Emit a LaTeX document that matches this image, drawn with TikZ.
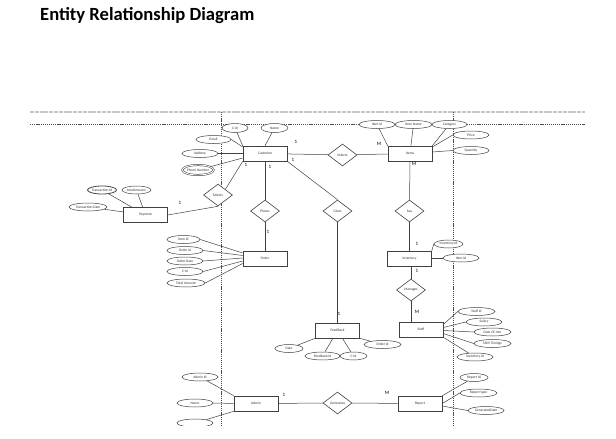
\documentclass[tikz,border=0pt]{standalone}
\usepackage{fontspec}
\setmainfont{Carlito}
\usetikzlibrary{shapes.geometric}
\begin{document}
\begin{tikzpicture}[x=1pt,y=-1pt,
  every node/.style={font=\fontsize{3.6}{4}\selectfont, text=black!80},
  ent/.style={draw=black!75, fill=white, line width=0.6pt, rectangle, minimum width=44pt, minimum height=15pt, inner sep=0pt},
  attr/.style={draw=black!75, fill=white, line width=0.5pt, ellipse, minimum width=36pt, minimum height=8pt, inner sep=0pt},
  rel/.style={draw=black!75, fill=white, line width=0.6pt, diamond, aspect=1.32, minimum height=22pt, minimum width=29pt, inner sep=0pt},
  card/.style={font=\fontsize{5}{5}\selectfont, text=black, inner sep=0pt},
  conn/.style={draw=black!75, line width=0.5pt},
  guide/.style={draw=black!70, line width=0.5pt, dash pattern=on 1.2pt off 0.9pt}]
\useasboundingbox (0,0) rectangle (616,439);
\node[anchor=west, font=\fontsize{18.6}{19}\selectfont\bfseries, text=black, inner sep=0pt] (title) at (40,16) {Entity Relationship Diagram};

\begin{scope}
\clip (0,100) rectangle (616,425);
% guide lines
\coordinate (g1a) at (30,112); \coordinate (g1b) at (585,112);
\coordinate (g2a) at (30,124); \coordinate (g2b) at (585,124);
\coordinate (v1a) at (221,112); \coordinate (v1b) at (221,425);
\coordinate (v2a) at (453,112); \coordinate (v2b) at (453,425);
\draw[gray!45, line width=1.4pt, dash pattern=on 4pt off 0.8pt] (g1a) -- (g1b);
\draw[guide] (g2a) -- (g2b);
\draw[guide] (v1a) -- (v1b);
\draw[guide] (v2a) -- (v2b);

% connectors first (drawn below shapes) - coordinates of nodes defined later, so use a two-pass approach
% entities
\node[ent] (cust) at (265,153.5) {Customer};
\node[ent] (items) at (410,153.5) {Items};
\node[ent] (pay) at (145.5,215) {Payment};
\node[ent] (order) at (265,258.5) {Order};
\node[ent] (inv) at (409.5,258.5) {Inventory};
\node[ent] (fb) at (337.5,330.5) {FeedBack};
\node[ent] (staff) at (421,329.5) {Staff};
\node[ent] (admin) at (256,403.5) {Admin};
\node[ent] (report) at (420,403.5) {Report};

% relationships
\node[rel] (selL) at (218,195) {Selects};
\node[rel] (places) at (265,211) {Places};
\node[rel] (gives) at (337.5,211) {Gives};
\node[rel] (selR) at (342.5,155) {Selects};
\node[rel] (has) at (409.5,211) {has};
\node[rel] (manages) at (411,290) {Manages};
\node[rel] (gen) at (337.5,403) {Generates};

% customer attributes
\node[attr, minimum width=26pt, minimum height=9pt] (cid) at (235,128) {C-id};
\node[attr, minimum width=27pt, minimum height=9pt] (cname) at (274.5,128) {Name};
\node[attr, minimum width=35pt] (email) at (213.5,139.5) {Email};
\node[attr] (addr) at (200,153.5) {Address};
\node[attr, double, double distance=0.9pt, minimum width=30pt, minimum height=10pt] (phone) at (198,170) {Phone Number};

% items attributes
\node[attr] (iid) at (377,124.5) {Item id};
\node[attr, minimum width=37pt] (iname) at (413.5,124.5) {Item Name};
\node[attr, minimum width=35pt] (icat) at (449.5,124.5) {Category};
\node[attr] (price) at (471,135) {Price};
\node[attr] (qty) at (471,150.5) {Quantity};

% payment attributes
\node[attr, minimum width=29pt, line width=0.8pt] (tid) at (102,190) {Transaction Id};
\node[attr, minimum width=29pt] (tamt) at (136.5,190) {totalAmount};
\node[attr, minimum width=38pt] (tdate) at (88,207) {Transaction Date};

% order attributes
\node[attr, minimum width=33pt] (oiid) at (183.5,239.5) {Item id};
\node[attr] (ooid) at (185,250.5) {Order id};
\node[attr] (odate) at (185,261) {Order Date};
\node[attr] (ocid) at (185,271.5) {C-id};
\node[attr, minimum width=38pt] (otot) at (186,283) {Total Amount};

% inventory attributes
\node[attr, minimum width=29pt] (invid) at (448.5,244) {Inventory Id};
\node[attr] (inviid) at (461,258) {Item id};

% feedback attributes
\node[attr, minimum width=28pt] (fdate) at (289,348.5) {Date};
\node[attr, minimum width=35pt] (fid) at (322.5,356) {Feedback id};
\node[attr, minimum width=27pt] (fcid) at (353.5,356) {C-id};
\node[attr, minimum width=37pt] (foid) at (382.5,344.5) {Order id};

% staff attributes
\node[attr, minimum width=37pt] (sid) at (476.5,311.5) {Staff id};
\node[attr] (ssal) at (484,322) {Salary};
\node[attr, minimum width=37pt] (sdoj) at (492.5,332) {Date Of Join};
\node[attr, minimum width=37pt] (sshift) at (492.5,343.5) {Shift Timings};
\node[attr] (sinv) at (475,357) {Inventory Id};

% admin attributes
\node[attr] (aid) at (200,377) {Admin Id};
\node[attr] (aname) at (195,403) {Name};
\node[attr] (aother) at (195,423) {};

% report attributes
\node[attr, minimum width=28pt] (rid) at (474,377.5) {Report Id};
\node[attr, minimum width=37pt] (rtype) at (478.5,393) {Report type};
\node[attr, minimum width=36pt] (rgen) at (486,410.5) {GeneratedDate};

% connectors: attributes
\draw[conn] (cid) -- (cust.north west);
\draw[conn] (cname) -- (cust.north);
\draw[conn] (email.east) -- (cust.west |- 0,147);
\draw[conn] (addr) -- (cust);
\draw[conn] (phone) -- (cust.west |- 0,158);

\draw[conn] (iid) -- (items.north west);
\draw[conn] (iname) -- (items);
\draw[conn] (icat) -- (items.north east);
\draw[conn] (price.west) -- (items.east |- 0,147);
\draw[conn] (qty.west) -- (items.east |- 0,152);

\draw[conn] (tid) -- (pay);
\draw[conn] (tamt) -- (pay);
\draw[conn] (tdate) -- (pay);

\draw[conn] (oiid.east) -- (order.west |- 0,253);
\draw[conn] (ooid.east) -- (order.west |- 0,255.5);
\draw[conn] (odate.east) -- (order.west |- 0,258);
\draw[conn] (ocid.east) -- (order.west |- 0,261);
\draw[conn] (otot.east) -- (order.west |- 0,263.5);

\draw[conn] (invid.west) -- (inv.north east);
\draw[conn] (inviid.west) -- (inv.east |- inviid.west);

\draw[conn] (fdate) -- (fb.south west);
\draw[conn] (fid) -- (fb);
\draw[conn] (fcid) -- (fb);
\draw[conn] (foid) -- (fb.south east);

\draw[conn] (sid.west) -- (staff.east |- 0,324.5);
\draw[conn] (ssal.west) -- (staff.east |- 0,327.5);
\draw[conn] (sdoj.west) -- (staff.east |- 0,330.5);
\draw[conn] (sshift.west) -- (staff.east |- 0,333.5);
\draw[conn] (sinv) -- (staff.south east);

\draw[conn] (aid) -- (admin.north west);
\draw[conn] (aname) -- (admin);
\draw[conn] (aother) -- (admin.south west);

\draw[conn] (rid) -- (report.north east);
\draw[conn] (rtype.west) -- (report.east);
\draw[conn] (rgen.west) -- (report.east |- 0,406);

% connectors: relationships
\draw[conn] (cust.south west) -- (selL.north east);
\draw[conn] (selL.south) -- (pay.east);
\draw[conn] (cust) -- (places);
\draw[conn] (places) -- (order);
\draw[conn] (cust.south east) -- (gives.north);
\draw[conn] (gives) -- (fb);
\draw[conn] (cust) -- (selR);
\draw[conn] (selR) -- (items);
\draw[conn] (items) -- (has);
\draw[conn] (has) -- (inv);
\draw[conn] (inv.south -| manages) -- (manages);
\draw[conn] (manages) -- (staff.north -| manages);
\draw[conn] (admin) -- (gen);
\draw[conn] (gen) -- (report);

% cardinalities
\node[card] (c1) at (296,142) {1};
\node[card] (c2) at (246,165) {1};
\node[card] (c3) at (270,167) {1};
\node[card] (c4) at (293,160) {1};
\node[card] (c5) at (180,203) {1};
\node[card] (c6) at (379,144) {M};
\node[card] (c7) at (414,164) {M};
\node[card] (c8) at (268,232) {1};
\node[card] (c9) at (339,314) {1};
\node[card] (c10) at (417,244) {1};
\node[card] (c11) at (417,271) {1};
\node[card] (c12) at (417,312) {M};
\node[card] (c13) at (284,395) {1};
\node[card] (c14) at (387,393) {M};
\end{scope}
\end{tikzpicture}
\end{document}
